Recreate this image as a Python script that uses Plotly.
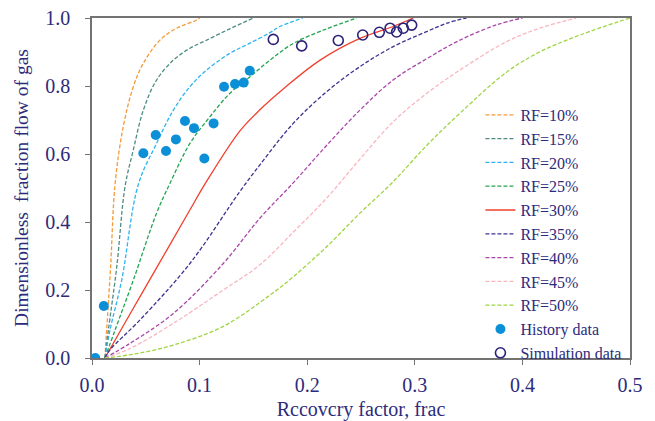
import plotly.graph_objects as go

# ---- data ----
rf10_x = [0.012, 0.0136, 0.0173, 0.0214, 0.029, 0.0384, 0.0477, 0.0632, 0.0787, 0.0973, 0.1]
rf10_y = [0.0, 0.082, 0.268, 0.51, 0.68, 0.798, 0.867, 0.935, 0.97, 0.994, 1.0]

rf15_x = [0.012, 0.0152, 0.023, 0.0307, 0.0384, 0.0477, 0.0601, 0.0756, 0.091, 0.1066, 0.128, 0.15]
rf15_y = [0.0, 0.082, 0.268, 0.504, 0.612, 0.729, 0.818, 0.876, 0.911, 0.935, 0.968, 1.0]

rf20_x = [0.012, 0.0167, 0.0276, 0.043, 0.060, 0.0756, 0.091, 0.1066, 0.128, 0.1468, 0.1654, 0.1747, 0.196]
rf20_y = [0.0, 0.082, 0.229, 0.51, 0.631, 0.729, 0.798, 0.847, 0.896, 0.926, 0.957, 0.975, 1.0]

rf25_x = [0.012, 0.0214, 0.0384, 0.060, 0.0725, 0.091, 0.1097, 0.128, 0.1468, 0.1654, 0.187, 0.218, 0.246]
rf25_y = [0.0, 0.082, 0.229, 0.426, 0.514, 0.631, 0.71, 0.778, 0.827, 0.876, 0.925, 0.968, 1.0]

rf30_x = [0.012, 0.03, 0.06, 0.09, 0.1066, 0.1375, 0.156, 0.178, 0.212, 0.249, 0.28, 0.2986]
rf30_y = [0.0, 0.10, 0.265, 0.43, 0.52, 0.668, 0.73, 0.792, 0.876, 0.94, 0.975, 1.0]

rf35_x = [0.012, 0.0167, 0.0446, 0.091, 0.1375, 0.156, 0.187, 0.218, 0.249, 0.28, 0.311, 0.33, 0.348]
rf35_y = [0.0, 0.024, 0.112, 0.278, 0.49, 0.568, 0.69, 0.783, 0.857, 0.916, 0.96, 0.985, 1.0]

rf40_x = [0.012, 0.0353, 0.0756, 0.122, 0.156, 0.187, 0.218, 0.249, 0.28, 0.311, 0.342, 0.376, 0.40]
rf40_y = [0.0, 0.043, 0.131, 0.278, 0.411, 0.515, 0.625, 0.729, 0.818, 0.88, 0.935, 0.98, 1.0]

rf45_x = [0.012, 0.0353, 0.0756, 0.122, 0.156, 0.187, 0.218, 0.249, 0.28, 0.311, 0.342, 0.385, 0.416, 0.45]
rf45_y = [0.0, 0.028, 0.102, 0.2, 0.274, 0.37, 0.47, 0.585, 0.695, 0.778, 0.847, 0.93, 0.97, 1.0]

rf50_x = [0.012, 0.04, 0.0756, 0.122, 0.1654, 0.187, 0.218, 0.249, 0.2785, 0.311, 0.342, 0.385, 0.416, 0.4535, 0.5]
rf50_y = [0.0, 0.012, 0.038, 0.093, 0.185, 0.239, 0.327, 0.426, 0.514, 0.625, 0.72, 0.84, 0.9, 0.95, 1.0]

hist_x = [0.003, 0.011, 0.0477, 0.0592, 0.0688, 0.078, 0.0864, 0.0948, 0.1044, 0.113, 0.1227, 0.1329, 0.141, 0.1466]
hist_y = [0.0, 0.153, 0.602, 0.656, 0.609, 0.643, 0.697, 0.676, 0.587, 0.69, 0.798, 0.806, 0.81, 0.845]

sim_x = [0.1685, 0.1949, 0.2289, 0.2516, 0.267, 0.277, 0.2831, 0.2893, 0.2971]
sim_y = [0.937, 0.918, 0.934, 0.95, 0.958, 0.97, 0.959, 0.97, 0.979]

curve_names = ["RF=10%", "RF=15%", "RF=20%", "RF=25%", "RF=30%", "RF=35%", "RF=40%", "RF=45%", "RF=50%"]
curve_xs = [rf10_x, rf15_x, rf20_x, rf25_x, rf30_x, rf35_x, rf40_x, rf45_x, rf50_x]
curve_ys = [rf10_y, rf15_y, rf20_y, rf25_y, rf30_y, rf35_y, rf40_y, rf45_y, rf50_y]
curve_colors = ["#f59a3a", "#4f8c84", "#2fb3ee", "#22a650", "#f0402f", "#3b3390", "#a848a8", "#f9b6bf", "#9fd442"]
curve_dash = ["4px,2px", "4px,2px", "4px,2px", "4px,2px", "solid", "4px,2px", "4px,2px", "4px,2px", "4px,2px"]

TEXT = "#2d2b7b"
AX = "#737373"
FONT = "Liberation Serif, DejaVu Serif, Noto Serif, serif"

fig = go.Figure()
for name, xs, ys, c, d in zip(curve_names, curve_xs, curve_ys, curve_colors, curve_dash):
    fig.add_trace(go.Scatter(x=xs, y=ys, mode="lines", name=name,
                             line=dict(color=c, width=1.3, dash=d, shape="spline", smoothing=1.0)))

fig.add_trace(go.Scatter(x=hist_x, y=hist_y, mode="markers", name="History data",
                         marker=dict(color="#0b90d8", size=10, line=dict(width=0))))
fig.add_trace(go.Scatter(x=sim_x, y=sim_y, mode="markers", name="Simulation data",
                         marker=dict(color="#2a2378", size=10, symbol="circle-open",
                                     line=dict(color="#2a2378", width=1.6))))

axis_common = dict(showline=True, linecolor=AX, linewidth=1.5, mirror=True,
                   ticks="outside", ticklen=5, tickcolor=AX, tickwidth=1.2,
                   showgrid=False, zeroline=False, automargin=False,
                   tickfont=dict(family=FONT, size=20, color=TEXT))

fig.update_xaxes(range=[0, 0.5], dtick=0.1, tickformat=".1f", ticklabelstandoff=3,
                 title=dict(text="Rccovcry factor, frac", font=dict(family=FONT, size=20, color=TEXT), standoff=12),
                 **axis_common)
fig.update_yaxes(range=[0, 1.0], dtick=0.2, tickformat=".1f", ticklabelstandoff=11,
                 title=dict(text="Dimensionless  fraction flow of gas", font=dict(family=FONT, size=19.5, color=TEXT), standoff=11),
                 **axis_common)

fig.update_layout(
    width=655, height=421,
    margin=dict(l=92, r=25, t=18, b=63, autoexpand=False),
    paper_bgcolor="white", plot_bgcolor="white",
    font=dict(family=FONT, color=TEXT),
    legend=dict(x=0.722, y=0.765, xanchor="left", yanchor="top",
                bgcolor="rgba(0,0,0,0)", borderwidth=0,
                font=dict(family=FONT, size=16, color=TEXT),
                tracegroupgap=0),
    showlegend=True,
)

fig.write_html("out.html")
